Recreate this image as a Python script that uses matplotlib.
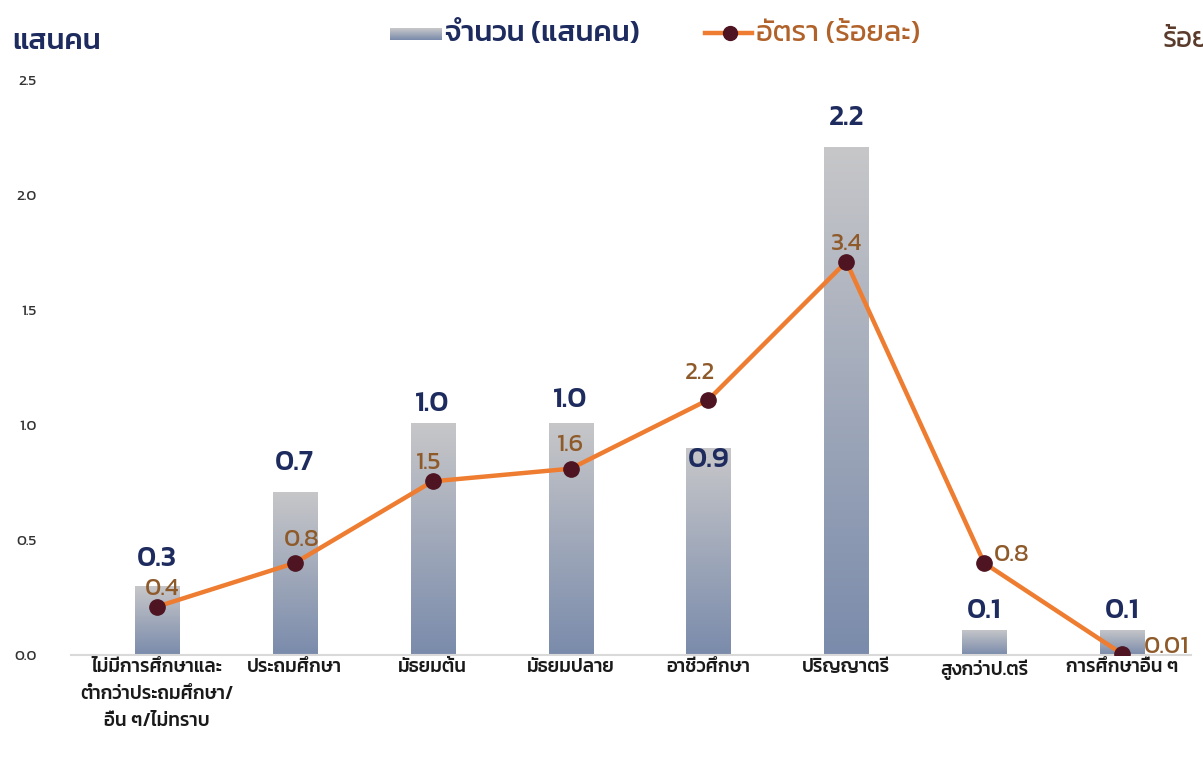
import matplotlib
matplotlib.use("Agg")
import matplotlib.pyplot as plt
import numpy as np
from matplotlib.colors import LinearSegmentedColormap

plt.rcParams['font.family'] = ['Kanit', 'DejaVu Sans']

# ---- data ----
categories = ["ไม่มีการศึกษาและ\nต่ำกว่าประถมศึกษา/\nอื่น ๆ/ไม่ทราบ", "ประถมศึกษา", "มัธยมต้น",
              "มัธยมปลาย", "อาชีวศึกษา", "ปริญญาตรี", "สูงกว่าป.ตรี", "การศึกษาอื่น ๆ"]
counts = [0.30, 0.71, 1.01, 1.01, 0.90, 2.21, 0.11, 0.11]          # แสนคน (bars)
count_labels = ["0.3", "0.7", "1.0", "1.0", "0.9", "2.2", "0.1", "0.1"]
rates = [0.42, 0.80, 1.51, 1.62, 2.22, 3.42, 0.80, 0.01]            # ร้อยละ (line)
rate_labels = ["0.4", "0.8", "1.5", "1.6", "2.2", "3.4", "0.8", "0.01"]
yticks_left = [0.0, 0.5, 1.0, 1.5, 2.0, 2.5]

NAVY = "#1d2b5e"
ORANGE = "#ee7d31"
MAROON = "#4e1422"
BROWN = "#8e5a2a"
GRAD = LinearSegmentedColormap.from_list("g", ["#7a8bab", "#c7c7c9"])

fig = plt.figure(figsize=(12.03, 7.61), dpi=100)
ax = fig.add_axes([88/1203, 1-655/761, (1191-88)/1203, (655-80)/761])
ax2 = ax.twinx()

x = np.arange(len(categories))
bars = ax.bar(x, counts, width=0.32, color="none", zorder=2)
grad = np.linspace(0, 1, 256).reshape(-1, 1)
for b in bars:
    x0, y0, w, h = b.get_x(), b.get_y(), b.get_width(), b.get_height()
    im = ax.imshow(grad, cmap=GRAD, origin="lower", aspect="auto",
                   extent=[x0, x0 + w, y0, y0 + h], zorder=2)
    im.set_clip_path(b)

ax.set_xlim(-0.5, len(categories) - 0.5)
ax.set_ylim(0, 2.5)
ax.set_yticks(yticks_left)
ax.set_yticklabels([f"{v:.1f}" for v in yticks_left], fontsize=11, color="#333333")
ax.tick_params(axis="y", length=0, pad=37)
ax.set_xticks(x)
ax.set_xticklabels(categories, fontsize=13.5, color="#1a1a1a", fontweight="medium", linespacing=1.75)
ax.tick_params(axis="x", length=0, pad=3)
for s in ["top", "right", "left"]:
    ax.spines[s].set_visible(False)
ax.spines["bottom"].set_color("#d9d9d9")
ax.spines["bottom"].set_linewidth(1.5)
ax.spines["bottom"].set_bounds(-0.62, len(categories) - 0.5)

# bar value labels (offsets in points)
count_offsets = [(0, 10), (0, 11), (0, 4), (0, 7), (0, -18), (0, 11), (0, 4), (0, 4)]
for xi, v, lab, off in zip(x, counts, count_labels, count_offsets):
    ax.annotate(lab, (xi, v), xytext=off, textcoords="offset points",
                ha="center", va="bottom", fontsize=21, color=NAVY, fontweight="medium", zorder=5)

# rate line on secondary axis
ax2.set_ylim(0, 5)
ax2.axis("off")
ax2.plot(x, rates, color=ORANGE, lw=3.2, zorder=3, solid_capstyle="round")
ax2.plot(x, rates, ls="none", marker="o", ms=11, mfc=MAROON, mec=MAROON, zorder=4)
rate_offsets = [(4, 5), (5, 9), (-3, 5), (0, 9), (-6, 11), (0, 5), (20, -2), (32, -3)]
for xi, v, lab, off in zip(x, rates, rate_labels, rate_offsets):
    ax2.annotate(lab, (xi, v), xytext=off, textcoords="offset points",
                 ha="center", va="bottom", fontsize=18, color=BROWN, zorder=5)

# axis titles
fig.text(12/1203, 1-42/761, "แสนคน", fontsize=21, color=NAVY, fontweight="medium", va="center", ha="left")
fig.text(1163/1203, 1-40/761, "ร้อยละ", fontsize=20, color="#5b3b2b", va="center", ha="left")

# legend
ax_leg = fig.add_axes([0, 0, 1, 1], zorder=-1)
ax_leg.set_xlim(0, 1203)
ax_leg.set_ylim(761, 0)
ax_leg.axis("off")
ax_leg.imshow(np.linspace(0, 1, 16).reshape(-1, 1), cmap=GRAD, origin="lower", aspect="auto",
              extent=[390, 442, 40, 28])
ax_leg.text(445, 34, "จำนวน (แสนคน)", fontsize=21, color=NAVY, va="center", ha="left", fontweight="medium")
ax_leg.plot([705, 752], [33, 33], color=ORANGE, lw=3.2)
ax_leg.plot([730], [33], marker="o", ms=10, mfc=MAROON, mec=MAROON)
ax_leg.text(756, 34, "อัตรา (ร้อยละ)", fontsize=21, color="#b0622a", va="center", ha="left")

fig.savefig("out.png", dpi=100)
